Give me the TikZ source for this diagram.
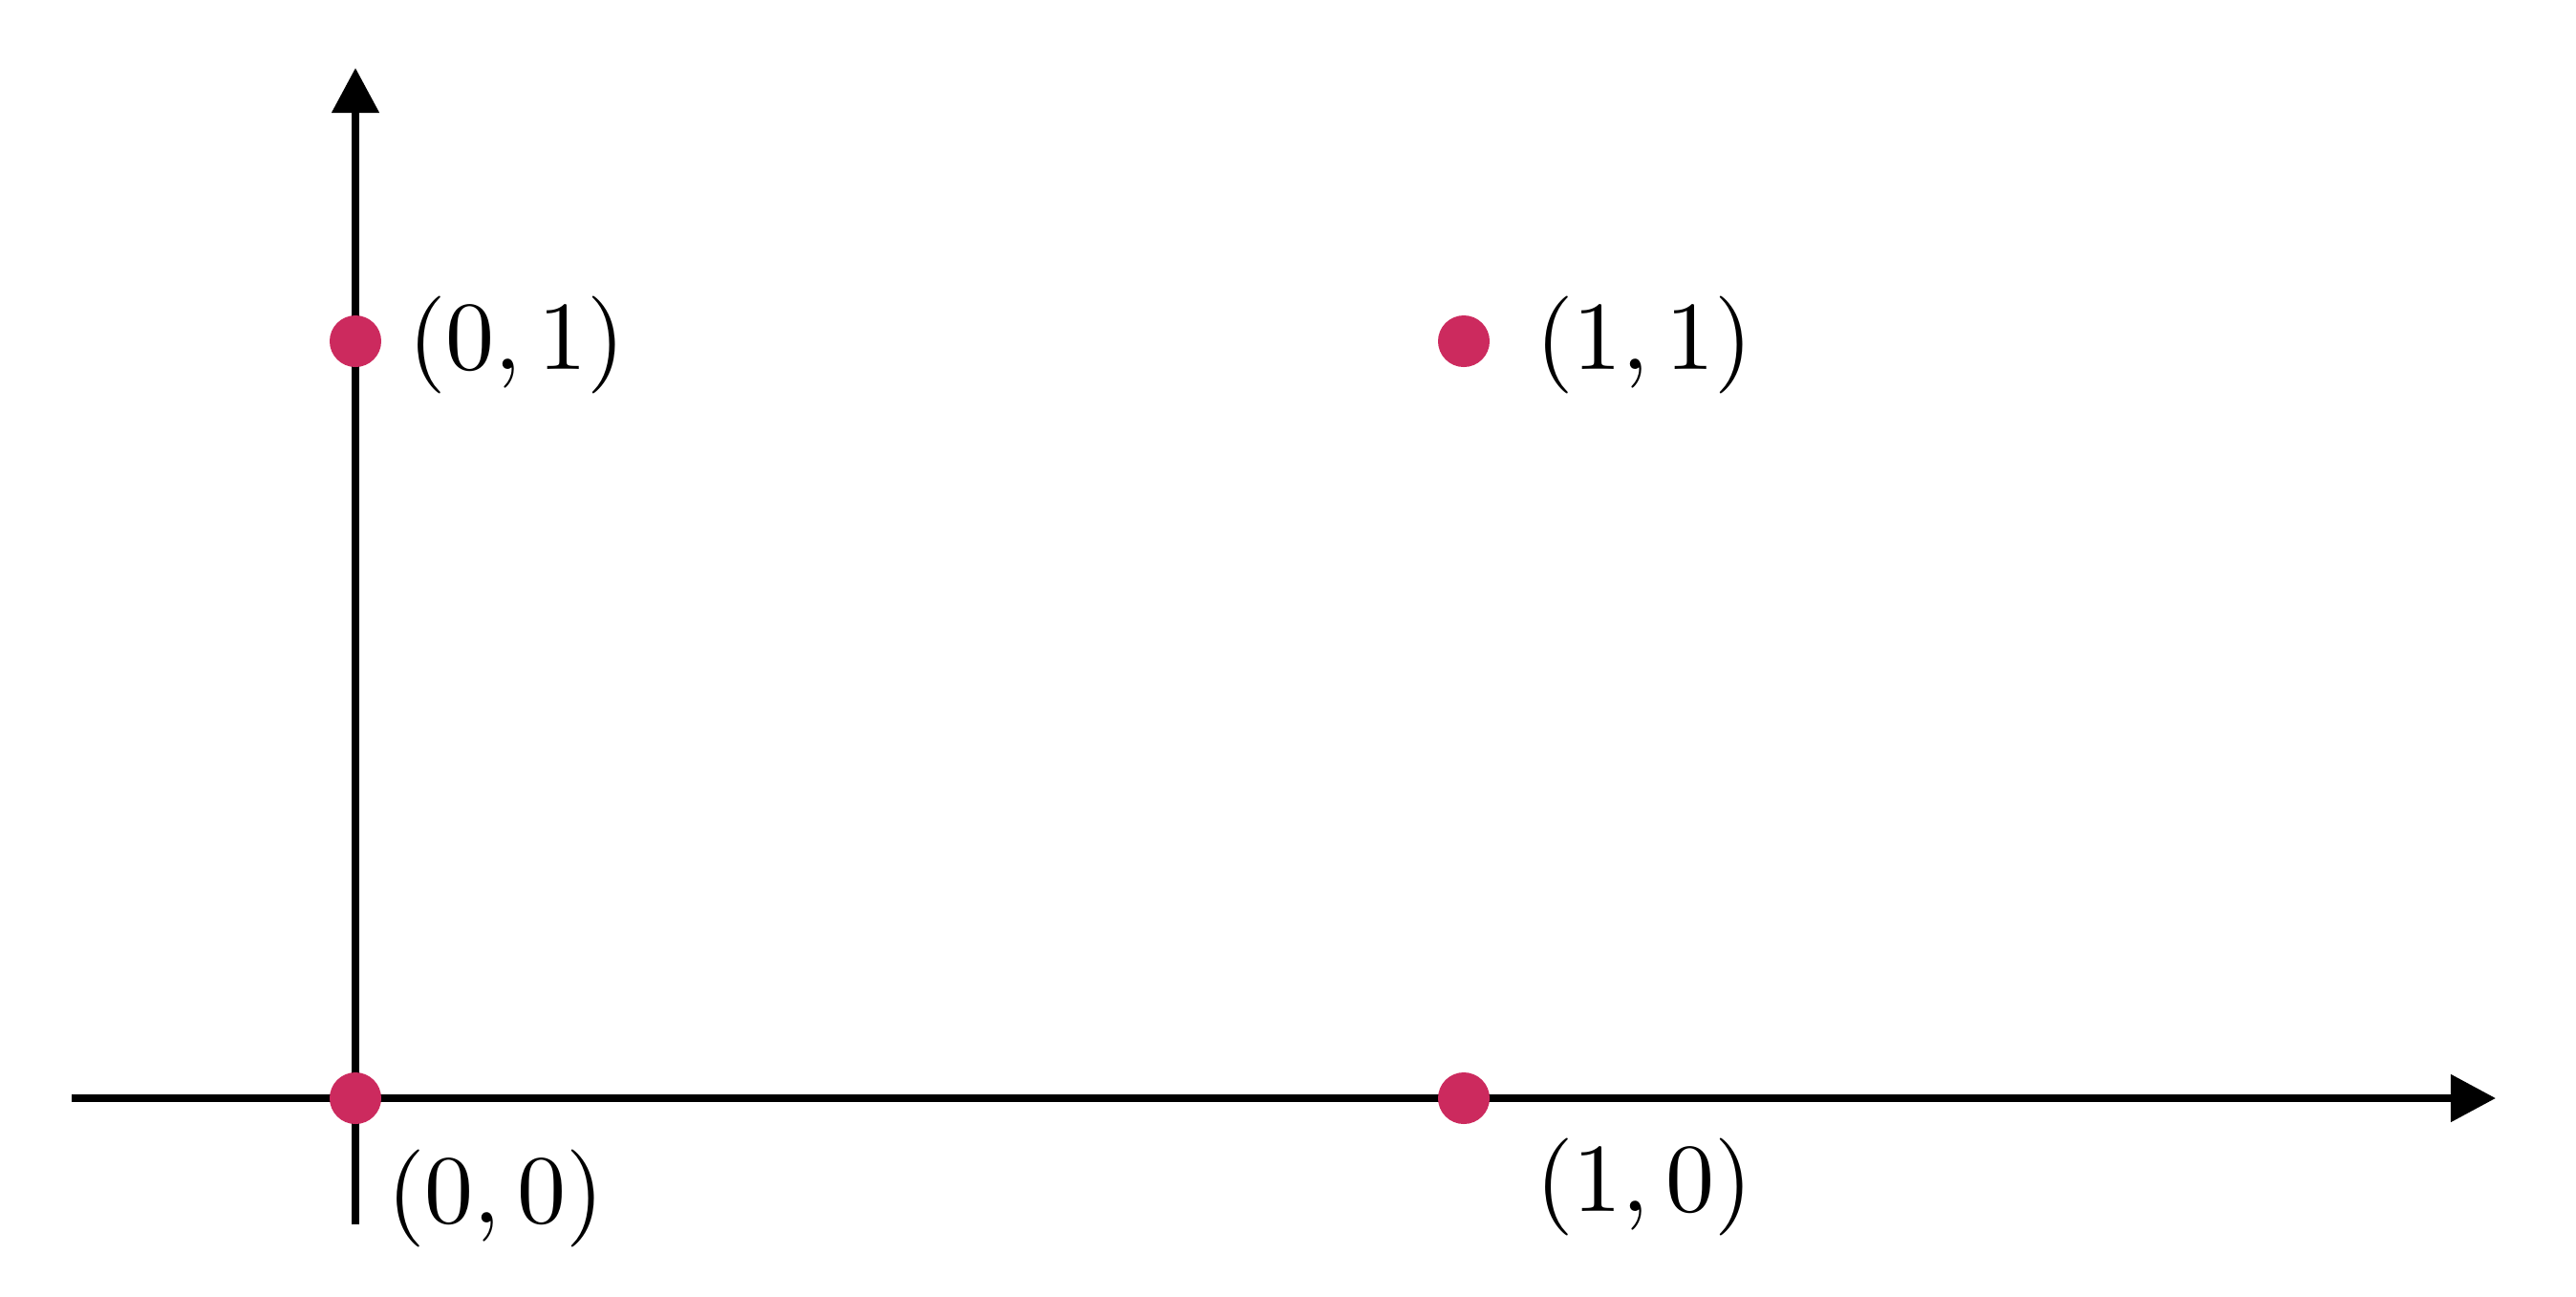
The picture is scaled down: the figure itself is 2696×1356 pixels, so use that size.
\documentclass[tikz,border=0pt]{standalone}
\usetikzlibrary{arrows.meta}
\definecolor{dotred}{RGB}{204,42,94}
\begin{document}
\begin{tikzpicture}[x=0.01cm,y=-0.01cm,
  axis/.style={line width=0.08cm,-{Triangle[length=0.47cm,width=0.48cm]}},
  pt/.style={circle,fill=dotred,inner sep=0pt,minimum size=0.54cm},
  lbl/.style={inner sep=0pt,anchor=base west,font=\fontsize{10}{12}\selectfont,scale=2.9}]
\useasboundingbox (0,0) rectangle (2696,1356);
\coordinate (xs) at (75,1149);
\coordinate (xe) at (2612,1149);
\coordinate (ys) at (372,1281);
\coordinate (ye) at (372,71);
\draw[axis] (xs) -- (xe);
\draw[axis] (ys) -- (ye);
\node[pt] (p00) at (372,1149) {};
\node[pt] (p10) at (1532,1149) {};
\node[pt] (p01) at (372,357) {};
\node[pt] (p11) at (1532,357) {};
\node[lbl] (l01) at (425,386) {$(0,1)$};
\node[lbl] (l11) at (1605,386) {$(1,1)$};
\node[lbl] (l00) at (403,1279) {$(0,0)$};
\node[lbl] (l10) at (1605,1267) {$(1,0)$};
\end{tikzpicture}
\end{document}
